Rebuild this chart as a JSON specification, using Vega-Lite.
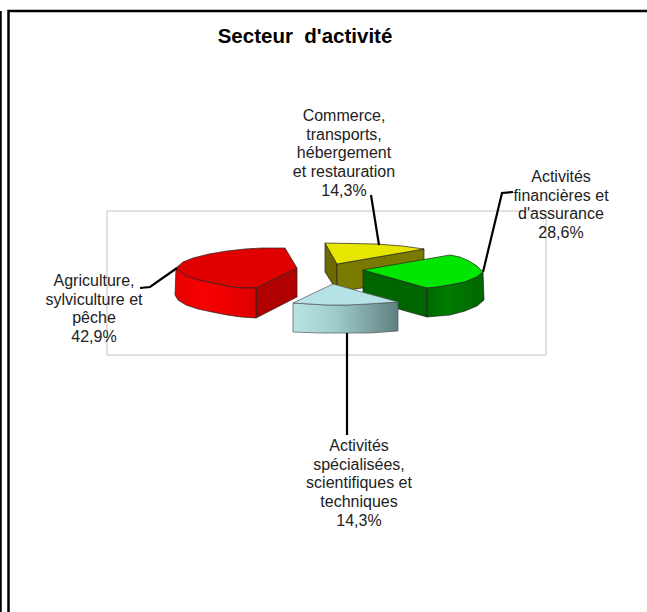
{"$schema":"https://vega.github.io/schema/vega-lite/v6.json","width":647,"height":612,"padding":0,"autosize":{"type":"none"},"background":"white","view":{"stroke":null},
"datasets":{
"labels":[
{"sector":"Agriculture, sylviculture et pêche","share":42.9,"label":"Agriculture,\nsylviculture et\npêche\n42,9%","lx":94,"ly":281},
{"sector":"Activités financières et d'assurance","share":28.6,"label":"Activités\nfinancières et\nd'assurance\n28,6%","lx":561,"ly":177},
{"sector":"Commerce, transports, hébergement et restauration","share":14.3,"label":"Commerce,\ntransports,\nhébergement\net restauration\n14,3%","lx":344,"ly":116},
{"sector":"Activités spécialisées, scientifiques et techniques","share":14.3,"label":"Activités\nspécialisées,\nscientifiques et\ntechniques\n14,3%","lx":359,"ly":446}],
"leaders":[
{"g":"a","x":140,"y":288},{"g":"a","x":150,"y":287},{"g":"a","x":177,"y":268},
{"g":"b","x":513,"y":192},{"g":"b","x":502,"y":193},{"g":"b","x":483,"y":272},
{"g":"c","x":371,"y":195},{"g":"c","x":379,"y":245},
{"g":"d","x":347,"y":333},{"g":"d","x":347,"y":435}],
"frame":[
{"g":"top","x":8.5,"y":612},{"g":"top","x":8.5,"y":11},{"g":"top","x":647,"y":11},
{"g":"edge","x":0.5,"y":11},{"g":"edge","x":0.5,"y":612}],
"faces":[
{"f":"yellow-left","x":325,"y":243},{"f":"yellow-left","x":337,"y":264},{"f":"yellow-left","x":337,"y":292},{"f":"yellow-left","x":332,"y":283},{"f":"yellow-left","x":325,"y":272},{"f":"yellow-left","x":325,"y":243},
{"f":"yellow-right","x":337,"y":264},{"f":"yellow-right","x":424,"y":249},{"f":"yellow-right","x":424,"y":278},{"f":"yellow-right","x":337,"y":292},{"f":"yellow-right","x":337,"y":264},
{"f":"yellow-top","x":325,"y":243},{"f":"yellow-top","x":377,"y":244},{"f":"yellow-top","x":402,"y":246},{"f":"yellow-top","x":424,"y":249},{"f":"yellow-top","x":337,"y":264},{"f":"yellow-top","x":325,"y":243},
{"f":"green-left","x":363,"y":270},{"f":"green-left","x":427,"y":288},{"f":"green-left","x":427,"y":317},{"f":"green-left","x":363,"y":299},{"f":"green-left","x":363,"y":270},
{"f":"green-top","x":363,"y":270},{"f":"green-top","x":450,"y":255},{"f":"green-top","x":460,"y":257},{"f":"green-top","x":469,"y":261},{"f":"green-top","x":477,"y":266},{"f":"green-top","x":483,"y":272},{"f":"green-top","x":477,"y":277},{"f":"green-top","x":465,"y":282},{"f":"green-top","x":450,"y":285},{"f":"green-top","x":438,"y":287},{"f":"green-top","x":427,"y":288},{"f":"green-top","x":363,"y":270},
{"f":"red-right","x":256,"y":288},{"f":"red-right","x":297,"y":268},{"f":"red-right","x":297,"y":297},{"f":"red-right","x":256,"y":318},{"f":"red-right","x":256,"y":288},
{"f":"red-top","x":176,"y":268},{"f":"red-top","x":183,"y":262},{"f":"red-top","x":193,"y":258},{"f":"red-top","x":209,"y":254},{"f":"red-top","x":227,"y":251},{"f":"red-top","x":245,"y":249},{"f":"red-top","x":262,"y":248},{"f":"red-top","x":285,"y":248},{"f":"red-top","x":297,"y":268},{"f":"red-top","x":256,"y":288},{"f":"red-top","x":241,"y":288},{"f":"red-top","x":227,"y":286},{"f":"red-top","x":212,"y":283},{"f":"red-top","x":198,"y":280},{"f":"red-top","x":186,"y":276},{"f":"red-top","x":176,"y":268},
{"f":"red-front","x":176,"y":268},{"f":"red-front","x":186,"y":276},{"f":"red-front","x":198,"y":280},{"f":"red-front","x":212,"y":283},{"f":"red-front","x":227,"y":286},{"f":"red-front","x":241,"y":288},{"f":"red-front","x":256,"y":288},{"f":"red-front","x":256,"y":318},{"f":"red-front","x":241,"y":317},{"f":"red-front","x":227,"y":315},{"f":"red-front","x":212,"y":312},{"f":"red-front","x":198,"y":309},{"f":"red-front","x":186,"y":305},{"f":"red-front","x":178,"y":300},{"f":"red-front","x":175,"y":295},{"f":"red-front","x":176,"y":268},
{"f":"green-front","x":427,"y":288},{"f":"green-front","x":438,"y":287},{"f":"green-front","x":450,"y":285},{"f":"green-front","x":465,"y":282},{"f":"green-front","x":477,"y":277},{"f":"green-front","x":483,"y":272},{"f":"green-front","x":484,"y":300},{"f":"green-front","x":477,"y":306},{"f":"green-front","x":465,"y":311},{"f":"green-front","x":450,"y":315},{"f":"green-front","x":438,"y":316},{"f":"green-front","x":427,"y":317},{"f":"green-front","x":427,"y":288},
{"f":"teal-side","x":293,"y":303},{"f":"teal-side","x":310,"y":304},{"f":"teal-side","x":327,"y":305},{"f":"teal-side","x":347,"y":305},{"f":"teal-side","x":367,"y":304},{"f":"teal-side","x":398,"y":302},{"f":"teal-side","x":398,"y":331},{"f":"teal-side","x":370,"y":333},{"f":"teal-side","x":347,"y":333},{"f":"teal-side","x":320,"y":333},{"f":"teal-side","x":293,"y":332},{"f":"teal-side","x":293,"y":303},
{"f":"teal-top","x":333,"y":284},{"f":"teal-top","x":398,"y":302},{"f":"teal-top","x":367,"y":304},{"f":"teal-top","x":347,"y":305},{"f":"teal-top","x":327,"y":305},{"f":"teal-top","x":310,"y":304},{"f":"teal-top","x":293,"y":303},{"f":"teal-top","x":333,"y":284}
],
"box":[{"x":107,"x2":546,"y":211,"y2":355}],
"title":[{"t":"Secteur\u00a0 d'activité","x":305,"y":37}]
},
"encoding":{
"x":{"field":"x","type":"quantitative","scale":{"domain":[0,647],"nice":false,"zero":false},"axis":null},
"y":{"field":"y","type":"quantitative","scale":{"domain":[612,0],"nice":false,"zero":false},"axis":null}},
"layer":[
{"data":{"name":"box"},"mark":{"type":"rect","fill":"white","stroke":"#c4c4c4","strokeWidth":1},"encoding":{"x2":{"field":"x2"},"y2":{"field":"y2"}}},
{"data":{"name":"frame"},"mark":{"type":"line","stroke":"black","strokeWidth":2.5},"encoding":{"detail":{"field":"g"},"order":{"value":null}}},
{"data":{"name":"faces"},"transform":[{"filter":"indexof(['red-front','green-front','teal-side','teal-top'],datum.f)<0"}],"mark":{"type":"line","stroke":"#222222","strokeWidth":0.7,"strokeJoin":"round"},
"encoding":{"detail":{"field":"f"},"order":{"value":null},"fill":{"field":"f","type":"nominal","legend":null,"scale":{"domain":["yellow-left","yellow-right","yellow-top","green-left","green-top","red-right","red-top"],"range":["#6b6b00","#7a7a00","#e6e600","#006400","#00e600","#b00000","#e00000"]}}}},
{"data":{"name":"faces"},"transform":[{"filter":"datum.f=='red-front'"}],"mark":{"type":"line","stroke":"#222222","strokeWidth":0.7,"fill":{"x1":0,"x2":1,"y1":0,"y2":0,"gradient":"linear","stops":[{"offset":0,"color":"#e60000"},{"offset":0.35,"color":"#f80000"},{"offset":1,"color":"#dc0000"}]}},"encoding":{"order":{"value":null}}},
{"data":{"name":"faces"},"transform":[{"filter":"datum.f=='green-front'"}],"mark":{"type":"line","stroke":"#222222","strokeWidth":0.7,"fill":{"x1":0,"x2":1,"y1":0,"y2":0,"gradient":"linear","stops":[{"offset":0,"color":"#006800"},{"offset":0.35,"color":"#007c00"},{"offset":1,"color":"#006600"}]}},"encoding":{"order":{"value":null}}},
{"data":{"name":"faces"},"transform":[{"filter":"datum.f=='teal-side'"}],"mark":{"type":"line","stroke":"#555555","strokeWidth":0.7,"fill":{"x1":0,"x2":1,"y1":0,"y2":0,"gradient":"linear","stops":[{"offset":0,"color":"#b8e4e4"},{"offset":0.4,"color":"#a0cccc"},{"offset":1,"color":"#5f8080"}]}},"encoding":{"order":{"value":null}}},
{"data":{"name":"faces"},"transform":[{"filter":"datum.f=='teal-top'"}],"mark":{"type":"line","stroke":"#555555","strokeWidth":0.7,"fill":"#b6e4e6"},"encoding":{"order":{"value":null}}},
{"data":{"name":"leaders"},"mark":{"type":"line","stroke":"black","strokeWidth":2.2},"encoding":{"detail":{"field":"g"},"order":{"value":null}}},
{"data":{"name":"labels"},"mark":{"type":"text","font":"Liberation Sans","fontSize":16,"lineHeight":18.7,"lineBreak":"\n","align":"center","baseline":"middle","color":"#222222"},"encoding":{"x":{"field":"lx","type":"quantitative"},"y":{"field":"ly","type":"quantitative"},"text":{"field":"label"}}},
{"data":{"name":"title"},"mark":{"type":"text","font":"Liberation Sans","fontSize":20.5,"fontWeight":"bold","align":"center","baseline":"middle","color":"black"},"encoding":{"text":{"field":"t"}}}
]}
